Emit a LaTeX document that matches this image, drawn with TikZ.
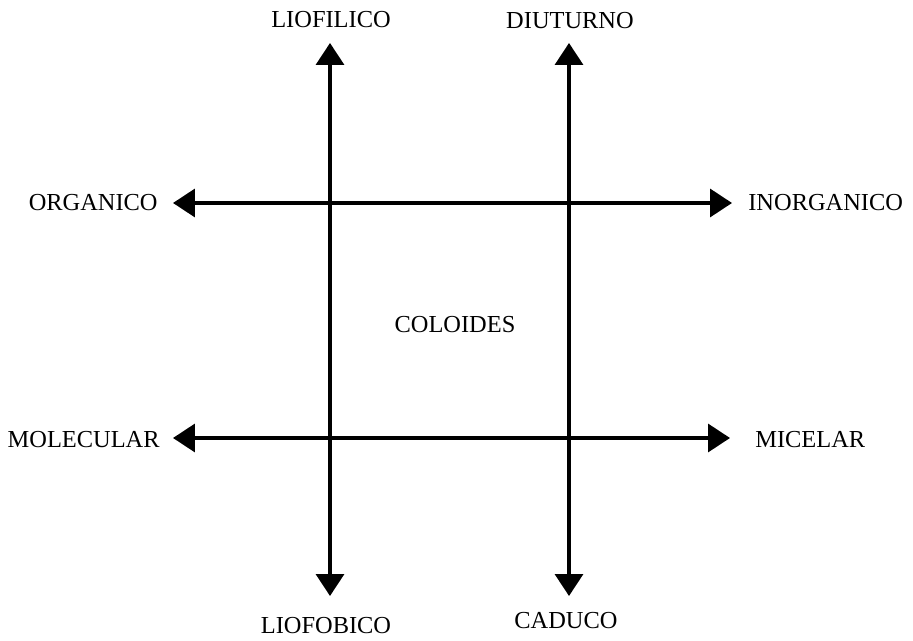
\documentclass[tikz,border=0pt]{standalone}
\usepackage{fontspec}
\setmainfont{Liberation Serif}
\usetikzlibrary{arrows.meta,positioning}
\tikzset{
  lbl/.style={inner sep=0pt, font=\fontsize{13.9}{16}\selectfont},
  axis/.style={{Triangle[length=4.4mm,width=5.6mm]}-{Triangle[length=4.4mm,width=5.6mm]}, line width=2pt, draw=black}
}

\begin{document}
\begin{tikzpicture}[x=0.02cm,y=-0.02cm]
  \useasboundingbox (0,0) rectangle (913,641);
  % end points of the four axes
  \coordinate (lTop) at (330,43);
  \coordinate (lBot) at (330,596);
  \coordinate (rTop) at (569,43);
  \coordinate (rBot) at (569,596);
  \coordinate (uLeft) at (173,203);
  \coordinate (uRight) at (732,203);
  \coordinate (dLeft) at (173,438);
  \coordinate (dRight) at (730,438);
  % labels
  \node[lbl] (liofilico) at (331,20) {LIOFILICO};
  \node[lbl] (diuturno) at (570,21) {DIUTURNO};
  \node[lbl, anchor=east] (organico) at (158,203) {ORGANICO};
  \node[lbl, anchor=west] (inorganico) at (748,203) {INORGANICO};
  \node[lbl] (coloides) at (455,325) {COLOIDES};
  \node[lbl, anchor=east] (molecular) at (160,440) {MOLECULAR};
  \node[lbl, anchor=west] (micelar) at (755,440) {MICELAR};
  \node[lbl] (liofobico) at (326,626) {LIOFOBICO};
  \node[lbl] (caduco) at (566,621) {CADUCO};
  % axes
  \draw[axis] (lBot) -- (lTop);
  \draw[axis] (rBot) -- (rTop);
  \draw[axis] (uLeft) -- (uRight);
  \draw[axis] (dLeft) -- (dRight);
\end{tikzpicture}
\end{document}
